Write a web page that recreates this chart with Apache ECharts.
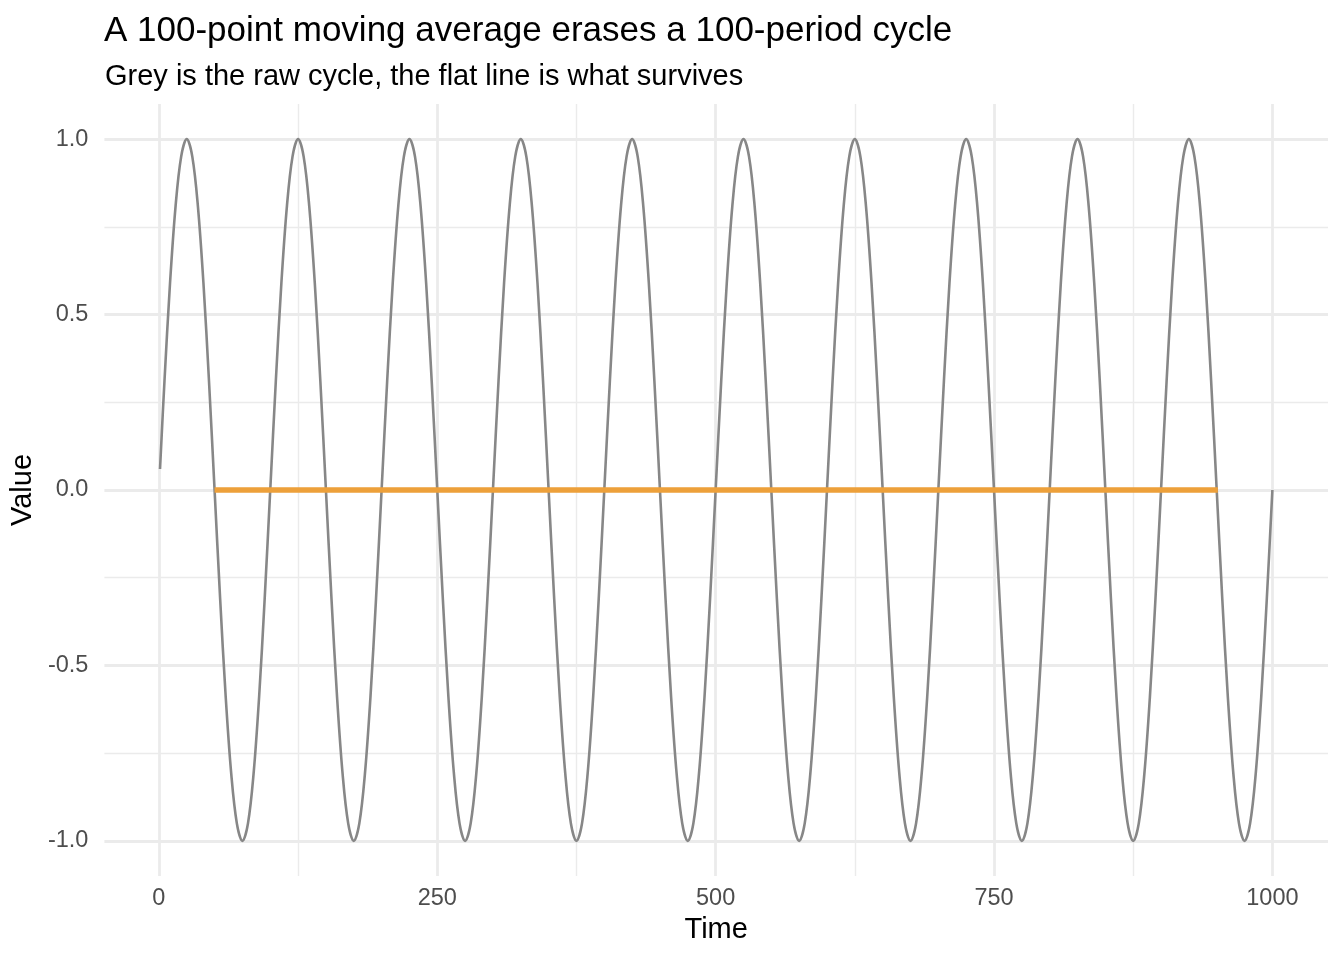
<!DOCTYPE html>
<html>
<head>
<meta charset="utf-8">
<title>Moving average erases a cycle</title>
<script src="https://cdn.jsdelivr.net/npm/echarts@6/dist/echarts.min.js"></script>
<style>
  html, body { margin: 0; padding: 0; background: #fff; }
  #chart { width: 1344px; height: 960px; }
</style>
</head>
<body>
<div id="chart"></div>
<script>
// raw cycle, every 5 periods
const rawTime = [
  1, 5, 10, 15, 20, 25, 30, 35, 40, 45, 50, 55, 60, 65, 70, 75, 80, 85, 90, 95, 100,
  105, 110, 115, 120, 125, 130, 135, 140, 145, 150, 155, 160, 165, 170, 175, 180, 185, 190, 195, 200,
  205, 210, 215, 220, 225, 230, 235, 240, 245, 250, 255, 260, 265, 270, 275, 280, 285, 290, 295, 300,
  305, 310, 315, 320, 325, 330, 335, 340, 345, 350, 355, 360, 365, 370, 375, 380, 385, 390, 395, 400,
  405, 410, 415, 420, 425, 430, 435, 440, 445, 450, 455, 460, 465, 470, 475, 480, 485, 490, 495, 500,
  505, 510, 515, 520, 525, 530, 535, 540, 545, 550, 555, 560, 565, 570, 575, 580, 585, 590, 595, 600,
  605, 610, 615, 620, 625, 630, 635, 640, 645, 650, 655, 660, 665, 670, 675, 680, 685, 690, 695, 700,
  705, 710, 715, 720, 725, 730, 735, 740, 745, 750, 755, 760, 765, 770, 775, 780, 785, 790, 795, 800,
  805, 810, 815, 820, 825, 830, 835, 840, 845, 850, 855, 860, 865, 870, 875, 880, 885, 890, 895, 900,
  905, 910, 915, 920, 925, 930, 935, 940, 945, 950, 955, 960, 965, 970, 975, 980, 985, 990, 995, 1000
]
const rawValue = [
  0.06, 0.31, 0.59, 0.81, 0.95, 1, 0.95, 0.81, 0.59, 0.31, 0, -0.31, -0.59, -0.81, -0.95, -1, -0.95, -0.81, -0.59, -0.31, 0,
  0.31, 0.59, 0.81, 0.95, 1, 0.95, 0.81, 0.59, 0.31, 0, -0.31, -0.59, -0.81, -0.95, -1, -0.95, -0.81, -0.59, -0.31, 0,
  0.31, 0.59, 0.81, 0.95, 1, 0.95, 0.81, 0.59, 0.31, 0, -0.31, -0.59, -0.81, -0.95, -1, -0.95, -0.81, -0.59, -0.31, 0,
  0.31, 0.59, 0.81, 0.95, 1, 0.95, 0.81, 0.59, 0.31, 0, -0.31, -0.59, -0.81, -0.95, -1, -0.95, -0.81, -0.59, -0.31, 0,
  0.31, 0.59, 0.81, 0.95, 1, 0.95, 0.81, 0.59, 0.31, 0, -0.31, -0.59, -0.81, -0.95, -1, -0.95, -0.81, -0.59, -0.31, 0,
  0.31, 0.59, 0.81, 0.95, 1, 0.95, 0.81, 0.59, 0.31, 0, -0.31, -0.59, -0.81, -0.95, -1, -0.95, -0.81, -0.59, -0.31, 0,
  0.31, 0.59, 0.81, 0.95, 1, 0.95, 0.81, 0.59, 0.31, 0, -0.31, -0.59, -0.81, -0.95, -1, -0.95, -0.81, -0.59, -0.31, 0,
  0.31, 0.59, 0.81, 0.95, 1, 0.95, 0.81, 0.59, 0.31, 0, -0.31, -0.59, -0.81, -0.95, -1, -0.95, -0.81, -0.59, -0.31, 0,
  0.31, 0.59, 0.81, 0.95, 1, 0.95, 0.81, 0.59, 0.31, 0, -0.31, -0.59, -0.81, -0.95, -1, -0.95, -0.81, -0.59, -0.31, 0,
  0.31, 0.59, 0.81, 0.95, 1, 0.95, 0.81, 0.59, 0.31, 0, -0.31, -0.59, -0.81, -0.95, -1, -0.95, -0.81, -0.59, -0.31, 0
]

// 100-point moving average, flat at zero
const maTime = [50, 250, 500, 750, 951]
const maValue = [0, 0, 0, 0, 0]

// axis breaks
const xMajor = [0, 250, 500, 750, 1000]
const xMinor = [125, 375, 625, 875]
const yMajor = [-1, -0.5, 0, 0.5, 1]
const yMinor = [-0.75, -0.25, 0.25, 0.75]

const font = 'Liberation Sans, Arial, Helvetica, sans-serif'
const gridColor = '#EBEBEB'

let chart = echarts.init(document.getElementById('chart'))

let gridLines = (vals, key, width) => vals.map(v => ({
  [key]: v,
  lineStyle: { color: gridColor, width: width, type: 'solid' }
}))

chart.setOption({
  backgroundColor: '#fff',
  animation: false,
  title: [{
    text: 'A 100-point moving average erases a 100-period cycle',
    left: 99,
    top: 9,
    textStyle: { fontFamily: font, fontSize: 35, fontWeight: 'normal', color: '#000' }
  }, {
    text: 'Grey is the raw cycle, the flat line is what survives',
    left: 100,
    top: 57,
    textStyle: { fontFamily: font, fontSize: 29, fontWeight: 'normal', color: '#000' }
  }],
  grid: { left: 103, right: 16, top: 104, bottom: 84, containLabel: false },
  xAxis: {
    type: 'value',
    min: -48.95,
    max: 1049.95,
    name: 'Time',
    nameLocation: 'middle',
    nameGap: 37,
    nameTextStyle: { fontFamily: font, fontSize: 29, color: '#000' },
    axisLine: { show: false },
    axisTick: { show: false },
    splitLine: { show: false },
    axisLabel: {
      customValues: xMajor,
      margin: 11,
      fontFamily: font,
      fontSize: 23.5,
      color: '#4D4D4D',
      formatter: v => String(v)
    }
  },
  yAxis: {
    type: 'value',
    min: -1.1,
    max: 1.1,
    name: 'Value',
    nameLocation: 'middle',
    nameGap: 62,
    nameRotate: 90,
    nameTextStyle: { fontFamily: font, fontSize: 29, color: '#000' },
    axisLine: { show: false },
    axisTick: { show: false },
    splitLine: { show: false },
    axisLabel: {
      customValues: yMajor,
      margin: 16,
      fontFamily: font,
      fontSize: 23.5,
      color: '#4D4D4D',
      formatter: v => v.toFixed(1)
    }
  },
  series: [{
    // panel grid, kept beneath the data lines
    type: 'line',
    data: [],
    z: 0,
    silent: true,
    markLine: {
      z: 0,
      silent: true,
      symbol: 'none',
      label: { show: false },
      emphasis: { disabled: true },
      animation: false,
      data: [
        ...gridLines(xMinor, 'xAxis', 1.4),
        ...gridLines(yMinor, 'yAxis', 1.4),
        ...gridLines(xMajor, 'xAxis', 2.8),
        ...gridLines(yMajor, 'yAxis', 2.8)
      ]
    }
  }, {
    name: 'Raw cycle',
    type: 'line',
    z: 3,
    data: rawTime.map((t, i) => [t, rawValue[i]]),
    showSymbol: false,
    smooth: 0.35,
    lineStyle: { color: '#878787', width: 2.6 }
  }, {
    name: 'Moving average',
    type: 'line',
    z: 4,
    data: maTime.map((t, i) => [t, maValue[i]]),
    showSymbol: false,
    lineStyle: { color: '#EDA03A', width: 5.5 }
  }]
})
</script>
</body>
</html>
